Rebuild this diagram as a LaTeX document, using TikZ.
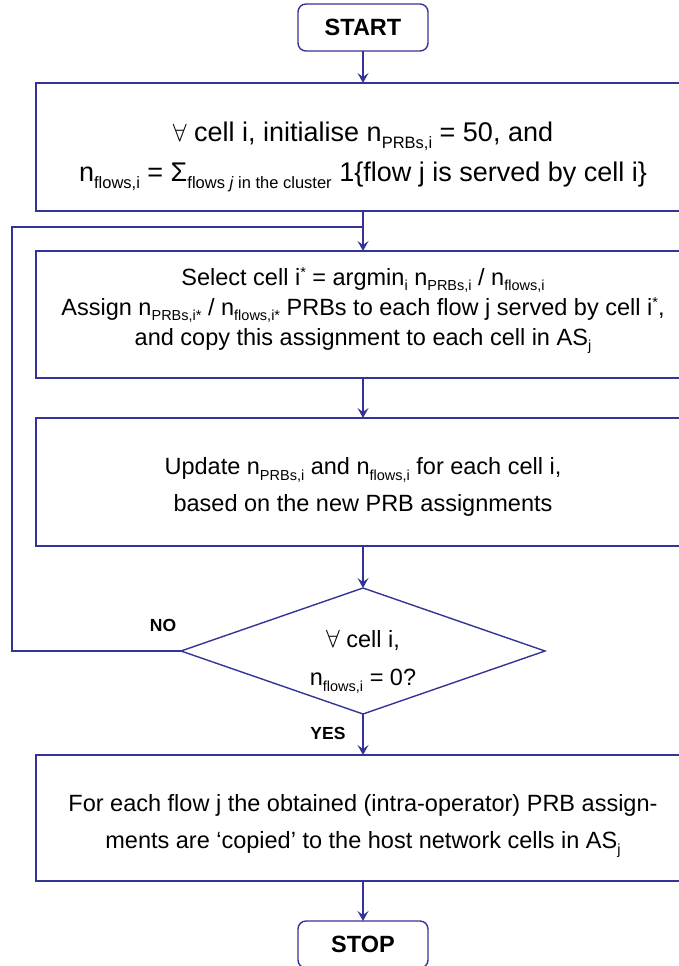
\documentclass[tikz,border=0pt]{standalone}
\usepackage{fontspec}
\setmainfont{Liberation Sans}
\usetikzlibrary{shapes.geometric,arrows.meta}
\definecolor{fc}{RGB}{52,52,152}
\newcommand{\sbs}[1]{\raisebox{-5.5pt}{\fontsize{14.5}{14.5}\selectfont #1}}
\newcommand{\sps}[1]{\raisebox{8pt}{\fontsize{14.5}{14.5}\selectfont #1}}
\newcommand{\sbsL}[1]{\raisebox{-6.5pt}{\fontsize{16.5}{16.5}\selectfont #1}}
\begin{document}
\begin{tikzpicture}[x=1pt,y=-1pt,
  every node/.style={inner sep=0pt, outer sep=0pt},
  box/.style={draw=fc, line width=1.4pt, minimum width=654pt},
  txt/.style={align=center, font=\fontsize{23.5}{30}\selectfont},
  term/.style={draw=fc, line width=1.4pt, rounded corners=8pt, minimum width=130pt, minimum height=47pt, font=\fontsize{23.5}{28}\selectfont\bfseries},
  dec/.style={diamond, draw=fc, line width=1.4pt, aspect=2.89, minimum width=364pt, minimum height=126pt},
  lbl/.style={font=\fontsize{17.5}{20}\selectfont\bfseries},
  arr/.style={draw=fc, line width=1.4pt, -{Stealth[length=10pt,width=11pt,inset=4pt]}},
  ln/.style={draw=fc, line width=1.4pt}]
\useasboundingbox (0,0) rectangle (679,966);
\clip (0,0) rectangle (679,966);

\node[term] (start) at (363,27.5) {START};

\node[box, minimum height=128pt] (b1) at (363,147) {};
\node[txt, font=\fontsize{27}{40}\selectfont] (t1) at (363,157)
  {$\forall$ cell i, initialise n\sbsL{PRBs,i} = 50, and\\
   n\sbsL{flows,i} = Σ\sbsL{flows \textit{j} in the cluster} 1\{flow j is served by cell i\}};

\node[box, minimum height=127pt] (b2) at (363,314.5) {};
\node[txt] (t2) at (363,310.5)
  {Select cell i\sps{*} = argmin\sbs{i} n\sbs{PRBs,i} / n\sbs{flows,i}\\
   Assign n\sbs{PRBs,i*} / n\sbs{flows,i*} PRBs to each flow j served by cell i\sps{*},\\
   and copy this assignment to each cell in AS\sbs{j}};

\node[box, minimum height=128pt] (b3) at (363,482) {};
\node[txt] (t3) at (363,487)
  {Update n\sbs{PRBs,i} and n\sbs{flows,i} for each cell i,\\[7pt]
   based on the new PRB assignments};

\node[dec] (d) at (363,651) {};
\node[txt] (td) at (363,662)
  {$\forall$ cell i,\\[8pt] n\sbs{flows,i} = 0?};

\node[box, minimum height=126pt] (b4) at (363,818) {};
\node[txt] (t4) at (363,826)
  {For each flow j the obtained (intra-operator) PRB assign-\\[7pt]
   ments are `copied' to the host network cells in AS\sbs{j}};

\node[term] (stop) at (363,944.5) {STOP};

\node[lbl] (no) at (163,625) {NO};
\node[lbl] (yes) at (328,733) {YES};

\coordinate (lc) at (12,227);
\coordinate (jn) at (363,227);

\draw[arr] (start.south) -- (b1.north);
\draw[arr] (b1.south) -- (b2.north);
\draw[arr] (b2.south) -- (b3.north);
\draw[arr] (b3.south) -- (d.north);
\draw[arr] (d.south) -- (b4.north);
\draw[arr] (b4.south) -- (stop.north);
\draw[ln] (d.west) -| (lc) -- (jn);
\end{tikzpicture}
\end{document}
